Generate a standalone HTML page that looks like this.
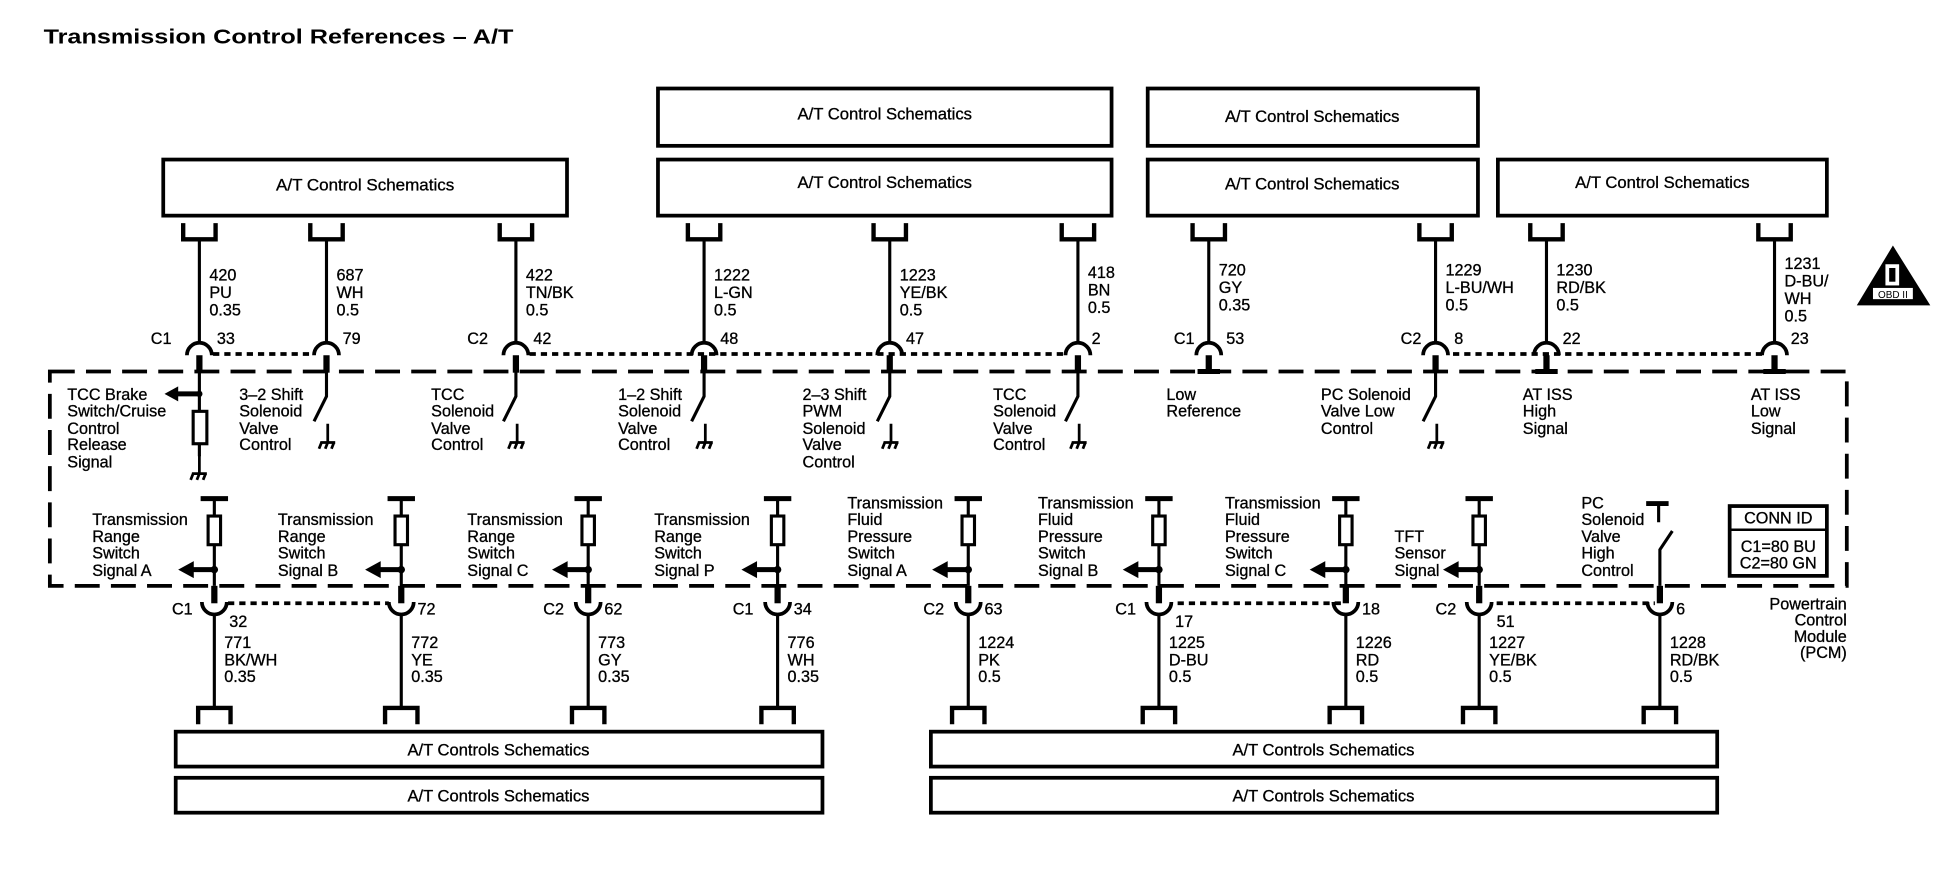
<!DOCTYPE html>
<html><head><meta charset="utf-8"><style>
html,body{margin:0;padding:0;background:#fff;}
svg{display:block;}
text{font-family:"Liberation Sans",Arial,sans-serif;font-size:13px;fill:#000;stroke:#000;stroke-width:0.25;}
.b{font-size:13px;}
.t{font-size:16px;font-weight:bold;stroke:none;}
</style></head><body>
<svg width="1944" height="880" viewBox="0 0 1560 706" preserveAspectRatio="none" xmlns="http://www.w3.org/2000/svg">
<defs>
<path id="tt" d="M-13,-13 V0 H13 V-13" fill="none" stroke="#000" stroke-width="3.5"/>
<path id="bt" d="M-13,13 V0 H13 V13" fill="none" stroke="#000" stroke-width="3.5"/>
<path id="ac" d="M-10,10 A10,10 0 0 1 10,10" fill="none" stroke="#000" stroke-width="3"/>
<path id="au" d="M-10,-10 A10,10 0 0 0 10,-10" fill="none" stroke="#000" stroke-width="3"/>
<g id="gnd" stroke="#000" stroke-width="2.2" fill="none"><path d="M0,0 V15 M-6,15 H6 M-5,15 L-7,20 M0,15 L-2,20 M5,15 L3,20"/></g>
<g id="sw" stroke="#000" stroke-width="2.5" fill="none"><path d="M0,0 V20 L-10,40"/><use href="#gnd" x="1" y="42"/></g>
<g id="arr"><line x1="0" y1="0" x2="-18" y2="0" stroke="#000" stroke-width="4"/><polygon points="-28,0 -17,-6 -17,6" fill="#000"/><circle cx="0" cy="0" r="2.5" fill="#000"/></g>
<g id="bp" stroke="#000" fill="none">
<line x1="-11" y1="400" x2="11" y2="400" stroke-width="4"/>
<line x1="0" y1="400" x2="0" y2="470" stroke-width="2.5"/>
<rect x="-5" y="414" width="10" height="23" fill="#fff" stroke-width="2.5"/>
<use href="#arr" x="0" y="457"/>
</g>
<g id="bl" stroke="#000" fill="none">
<line x1="0" y1="470" x2="0" y2="484" stroke-width="5"/>
<use href="#au" x="0" y="493"/>
<line x1="0" y1="493" x2="0" y2="568" stroke-width="2.5"/>
<use href="#bt" x="0" y="568"/>
</g>
<g id="tl" stroke="#000" fill="none">
<use href="#tt" x="0" y="192"/>
<line x1="0" y1="192" x2="0" y2="276" stroke-width="2.5"/>
<use href="#ac" x="0" y="275"/>
<line x1="0" y1="285" x2="0" y2="299" stroke-width="5"/>
</g>
</defs>

<text x="35" y="35" class="t" textLength="377" lengthAdjust="spacingAndGlyphs">Transmission Control References – A/T</text>

<g fill="none" stroke="#000" stroke-width="3">
<rect x="131" y="128" width="324" height="45"/>
<rect x="528" y="71" width="364" height="46"/>
<rect x="528" y="128" width="364" height="45"/>
<rect x="921" y="71" width="265" height="46"/>
<rect x="921" y="128" width="265" height="45"/>
<rect x="1202" y="128" width="264" height="45"/>
<rect x="141" y="587" width="519" height="28"/>
<rect x="141" y="624" width="519" height="28"/>
<rect x="747" y="587" width="631" height="28"/>
<rect x="747" y="624" width="631" height="28"/>
</g>
<g class="b" text-anchor="middle">
<text x="293" y="153" textLength="143" lengthAdjust="spacingAndGlyphs">A/T Control Schematics</text>
<text x="710" y="96" textLength="140" lengthAdjust="spacingAndGlyphs">A/T Control Schematics</text>
<text x="710" y="151" textLength="140" lengthAdjust="spacingAndGlyphs">A/T Control Schematics</text>
<text x="1053" y="98" textLength="140" lengthAdjust="spacingAndGlyphs">A/T Control Schematics</text>
<text x="1053" y="152" textLength="140" lengthAdjust="spacingAndGlyphs">A/T Control Schematics</text>
<text x="1334" y="151" textLength="140" lengthAdjust="spacingAndGlyphs">A/T Control Schematics</text>
<text x="400" y="606" textLength="146" lengthAdjust="spacingAndGlyphs">A/T Controls Schematics</text>
<text x="400" y="643" textLength="146" lengthAdjust="spacingAndGlyphs">A/T Controls Schematics</text>
<text x="1062" y="606" textLength="146" lengthAdjust="spacingAndGlyphs">A/T Controls Schematics</text>
<text x="1062" y="643" textLength="146" lengthAdjust="spacingAndGlyphs">A/T Controls Schematics</text>
</g>

<!-- module border -->
<rect x="40" y="298" width="1442" height="172" fill="none" stroke="#000" stroke-width="3" stroke-dasharray="20 9"/>

<!-- dotted lines -->
<g stroke="#000" stroke-width="3" stroke-dasharray="5 4">
<line x1="171" y1="284" x2="252" y2="284"/>
<line x1="425" y1="284" x2="857" y2="284"/>
<line x1="1166" y1="284" x2="1417" y2="284"/>
<line x1="183" y1="484" x2="312" y2="484"/>
<line x1="945" y1="484" x2="1076" y2="484"/>
<line x1="1201" y1="484" x2="1328" y2="484"/>
</g>

<!-- top wires -->
<use href="#tl" x="160"/><use href="#tl" x="262"/><use href="#tl" x="414"/><use href="#tl" x="565"/><use href="#tl" x="714"/>
<use href="#tl" x="865"/><use href="#tl" x="970"/><use href="#tl" x="1152"/><use href="#tl" x="1241"/><use href="#tl" x="1424"/>
<use href="#sw" x="262" y="298"/><use href="#sw" x="414" y="298"/><use href="#sw" x="565" y="298"/><use href="#sw" x="714" y="298"/><use href="#sw" x="865" y="298"/><use href="#sw" x="1152" y="298"/>
<g stroke="#000" stroke-width="4"><line x1="961" y1="298" x2="979" y2="298"/><line x1="1232" y1="298" x2="1250" y2="298"/><line x1="1415" y1="298" x2="1433" y2="298"/></g>
<g stroke="#000" fill="none" stroke-width="2.5"><line x1="160" y1="298" x2="160" y2="366"/><rect x="155" y="330" width="11" height="26" fill="#fff"/></g>
<use href="#gnd" x="160" y="365"/>
<use href="#arr" x="160" y="316"/>

<!-- top wire labels -->
<g>
<text x="168" y="225">420</text><text x="168" y="239">PU</text><text x="168" y="253">0.35</text>
<text x="270" y="225">687</text><text x="270" y="239">WH</text><text x="270" y="253">0.5</text>
<text x="422" y="225">422</text><text x="422" y="239">TN/BK</text><text x="422" y="253">0.5</text>
<text x="573" y="225">1222</text><text x="573" y="239">L-GN</text><text x="573" y="253">0.5</text>
<text x="722" y="225">1223</text><text x="722" y="239">YE/BK</text><text x="722" y="253">0.5</text>
<text x="873" y="223">418</text><text x="873" y="237">BN</text><text x="873" y="251">0.5</text>
<text x="978" y="221">720</text><text x="978" y="235">GY</text><text x="978" y="249">0.35</text>
<text x="1160" y="221">1229</text><text x="1160" y="235">L-BU/WH</text><text x="1160" y="249">0.5</text>
<text x="1249" y="221">1230</text><text x="1249" y="235">RD/BK</text><text x="1249" y="249">0.5</text>
<text x="1432" y="216">1231</text><text x="1432" y="230">D-BU/</text><text x="1432" y="244">WH</text><text x="1432" y="258">0.5</text>
</g>
<!-- top connector ids -->
<g>
<text x="121" y="276">C1</text><text x="174" y="276">33</text>
<text x="275" y="276">79</text>
<text x="375" y="276">C2</text><text x="428" y="276">42</text>
<text x="578" y="276">48</text>
<text x="727" y="276">47</text>
<text x="876" y="276">2</text>
<text x="942" y="276">C1</text><text x="984" y="276">53</text>
<text x="1124" y="276">C2</text><text x="1167" y="276">8</text>
<text x="1254" y="276">22</text>
<text x="1437" y="276">23</text>
</g>
<!-- top labels -->
<g>
<text x="54" y="321">TCC Brake</text><text x="54" y="334">Switch/Cruise</text><text x="54" y="348">Control</text><text x="54" y="361">Release</text><text x="54" y="375">Signal</text>
<text x="192" y="321">3–2 Shift</text><text x="192" y="334">Solenoid</text><text x="192" y="348">Valve</text><text x="192" y="361">Control</text>
<text x="346" y="321">TCC</text><text x="346" y="334">Solenoid</text><text x="346" y="348">Valve</text><text x="346" y="361">Control</text>
<text x="496" y="321">1–2 Shift</text><text x="496" y="334">Solenoid</text><text x="496" y="348">Valve</text><text x="496" y="361">Control</text>
<text x="644" y="321">2–3 Shift</text><text x="644" y="334">PWM</text><text x="644" y="348">Solenoid</text><text x="644" y="361">Valve</text><text x="644" y="375">Control</text>
<text x="797" y="321">TCC</text><text x="797" y="334">Solenoid</text><text x="797" y="348">Valve</text><text x="797" y="361">Control</text>
<text x="936" y="321">Low</text><text x="936" y="334">Reference</text>
<text x="1060" y="321">PC Solenoid</text><text x="1060" y="334">Valve Low</text><text x="1060" y="348">Control</text>
<text x="1222" y="321">AT ISS</text><text x="1222" y="334">High</text><text x="1222" y="348">Signal</text>
<text x="1405" y="321">AT ISS</text><text x="1405" y="334">Low</text><text x="1405" y="348">Signal</text>
</g>

<!-- OBD -->
<polygon points="1519,197 1490,245 1549,245" fill="#000"/>
<rect x="1513" y="212" width="11" height="17" fill="#fff"/>
<rect x="1516" y="215" width="5" height="11" fill="#000"/>
<rect x="1503" y="231" width="32" height="9" fill="#fff"/>
<text x="1519" y="239" text-anchor="middle" style="font-size:8px;stroke-width:0">OBD II</text>

<!-- bottom pins -->
<use href="#bp" x="172"/><use href="#bp" x="322"/><use href="#bp" x="472"/><use href="#bp" x="624"/><use href="#bp" x="777"/><use href="#bp" x="930"/><use href="#bp" x="1080"/><use href="#bp" x="1187"/>
<use href="#bl" x="172"/><use href="#bl" x="322"/><use href="#bl" x="472"/><use href="#bl" x="624"/><use href="#bl" x="777"/><use href="#bl" x="930"/><use href="#bl" x="1080"/><use href="#bl" x="1187"/><use href="#bl" x="1332"/>
<g stroke="#000" fill="none"><line x1="1321" y1="404" x2="1339" y2="404" stroke-width="4"/><path d="M1331,404 V419 M1342,426 L1332,441 V470" stroke-width="2.5"/></g>

<!-- bottom labels -->
<g>
<text x="74" y="421">Transmission</text><text x="74" y="435">Range</text><text x="74" y="448">Switch</text><text x="74" y="462">Signal A</text>
<text x="223" y="421">Transmission</text><text x="223" y="435">Range</text><text x="223" y="448">Switch</text><text x="223" y="462">Signal B</text>
<text x="375" y="421">Transmission</text><text x="375" y="435">Range</text><text x="375" y="448">Switch</text><text x="375" y="462">Signal C</text>
<text x="525" y="421">Transmission</text><text x="525" y="435">Range</text><text x="525" y="448">Switch</text><text x="525" y="462">Signal P</text>
<text x="680" y="408">Transmission</text><text x="680" y="421">Fluid</text><text x="680" y="435">Pressure</text><text x="680" y="448">Switch</text><text x="680" y="462">Signal A</text>
<text x="833" y="408">Transmission</text><text x="833" y="421">Fluid</text><text x="833" y="435">Pressure</text><text x="833" y="448">Switch</text><text x="833" y="462">Signal B</text>
<text x="983" y="408">Transmission</text><text x="983" y="421">Fluid</text><text x="983" y="435">Pressure</text><text x="983" y="448">Switch</text><text x="983" y="462">Signal C</text>
<text x="1119" y="435">TFT</text><text x="1119" y="448">Sensor</text><text x="1119" y="462">Signal</text>
<text x="1269" y="408">PC</text><text x="1269" y="421">Solenoid</text><text x="1269" y="435">Valve</text><text x="1269" y="448">High</text><text x="1269" y="462">Control</text>
</g>

<!-- CONN ID -->
<rect x="1388" y="406" width="78" height="56" fill="none" stroke="#000" stroke-width="3"/>
<line x1="1388" y1="425" x2="1466" y2="425" stroke="#000" stroke-width="2"/>
<text x="1427" y="420" text-anchor="middle">CONN ID</text>
<text x="1427" y="443" text-anchor="middle">C1=80 BU</text>
<text x="1427" y="456" text-anchor="middle">C2=80 GN</text>

<g text-anchor="end">
<text x="1482" y="489">Powertrain</text><text x="1482" y="502">Control</text><text x="1482" y="515">Module</text><text x="1482" y="528">(PCM)</text>
</g>

<!-- bottom connector ids -->
<g>
<text x="138" y="493">C1</text><text x="184" y="503">32</text>
<text x="335" y="493">72</text>
<text x="436" y="493">C2</text><text x="485" y="493">62</text>
<text x="588" y="493">C1</text><text x="637" y="493">34</text>
<text x="741" y="493">C2</text><text x="790" y="493">63</text>
<text x="895" y="493">C1</text><text x="943" y="503">17</text>
<text x="1093" y="493">18</text>
<text x="1152" y="493">C2</text><text x="1201" y="503">51</text>
<text x="1345" y="493">6</text>
</g>
<!-- bottom wire labels -->
<g>
<text x="180" y="520">771</text><text x="180" y="534">BK/WH</text><text x="180" y="547">0.35</text>
<text x="330" y="520">772</text><text x="330" y="534">YE</text><text x="330" y="547">0.35</text>
<text x="480" y="520">773</text><text x="480" y="534">GY</text><text x="480" y="547">0.35</text>
<text x="632" y="520">776</text><text x="632" y="534">WH</text><text x="632" y="547">0.35</text>
<text x="785" y="520">1224</text><text x="785" y="534">PK</text><text x="785" y="547">0.5</text>
<text x="938" y="520">1225</text><text x="938" y="534">D-BU</text><text x="938" y="547">0.5</text>
<text x="1088" y="520">1226</text><text x="1088" y="534">RD</text><text x="1088" y="547">0.5</text>
<text x="1195" y="520">1227</text><text x="1195" y="534">YE/BK</text><text x="1195" y="547">0.5</text>
<text x="1340" y="520">1228</text><text x="1340" y="534">RD/BK</text><text x="1340" y="547">0.5</text>
</g>
</svg>
</body></html>
